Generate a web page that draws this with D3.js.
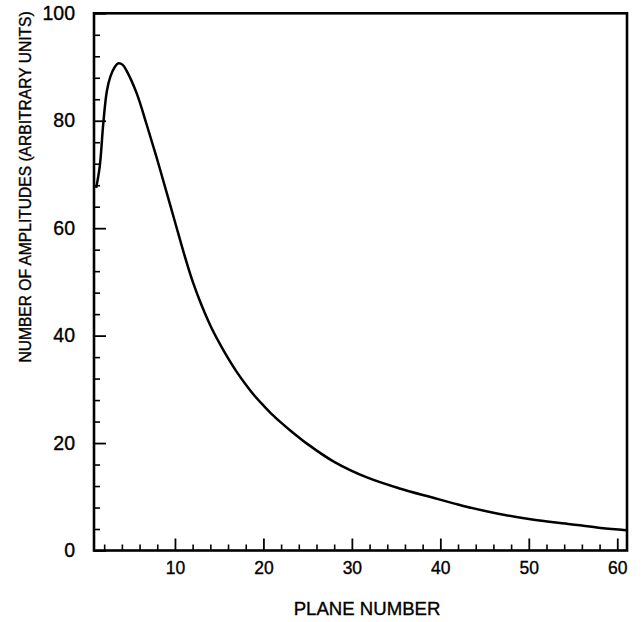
<!DOCTYPE html>
<html>
<head>
<meta charset="utf-8">
<script src="https://cdn.jsdelivr.net/npm/d3@7"></script>
<style>
  html, body { margin: 0; padding: 0; background: #fff; }
  svg { display: block; }
  text { font-family: "Liberation Sans", Arial, Helvetica, sans-serif; fill: #000; stroke: #000; stroke-width: 0.35px; }
</style>
</head>
<body>
<svg id="chart" width="644" height="622"></svg>
<script>
// Amplitude count per detector plane
const planes = [1.1, 1.5, 1.9, 2.3, 2.7, 3.2, 3.6, 4.1, 4.6, 5.7, 6.8, 7.9, 9.0, 10.0,
  11.0, 12.0, 13.0, 14.0, 15.0, 16.0, 17.0, 18.0, 19.0, 20.0, 21.0, 22.0, 23.0,
  25.0, 28.0, 31.7, 35.5, 39.0, 42.6, 46.4, 50.2, 54.7, 57.7, 60.7, 61.0];
const amplitudes = [67.5, 71.5, 79.5, 85.5, 88.2, 90.0, 90.7, 90.4, 89.1, 85.0, 79.3, 73.3, 67.0, 61.2,
  55.4, 50.1, 45.7, 41.9, 38.7, 35.8, 33.2, 30.9, 28.8, 27.0, 25.3, 23.8, 22.4,
  19.8, 16.5, 13.6, 11.5, 9.9, 8.3, 6.9, 5.8, 4.9, 4.3, 3.8, 3.75];

const xMajorTicks = [10, 20, 30, 40, 50, 60];
const xMinorTicks = d3.range(2, 61, 2).filter(v => v % 10 !== 0);
const yMajorTicks = [0, 20, 40, 60, 80, 100];
const yMinorTicks = d3.range(4, 100, 4).filter(v => v % 20 !== 0);

const xTitle = "PLANE NUMBER";
const yTitle = "NUMBER OF AMPLITUDES (ARBITRARY UNITS)";

const svg = d3.select("#chart");
const plotLeft = 94, plotRight = 627, plotTop = 13.3, plotBottom = 550.5;

const x = d3.scaleLinear().domain([0.85, 61.1]).range([plotLeft, plotRight]);
const y = d3.scaleLinear().domain([0, 100]).range([plotBottom, plotTop]);

// Frame
svg.append("rect")
  .attr("x", plotLeft).attr("y", plotTop)
  .attr("width", plotRight - plotLeft).attr("height", plotBottom - plotTop)
  .attr("fill", "none").attr("stroke", "#000").attr("stroke-width", 2.6);

// Bottom axis: inward ticks, labels below
const bottomAxis = svg.append("g").attr("transform", `translate(0,${plotBottom})`);
bottomAxis.append("g")
  .call(d3.axisBottom(x).tickValues(xMinorTicks).tickSizeInner(-6).tickSizeOuter(0).tickFormat(""))
  .call(g => g.select(".domain").remove())
  .call(g => g.selectAll("line").attr("stroke-width", 1.6));
bottomAxis.append("g")
  .call(d3.axisBottom(x).tickValues(xMajorTicks).tickSizeInner(-12).tickSizeOuter(0).tickPadding(11))
  .call(g => g.select(".domain").remove())
  .call(g => g.selectAll("line").attr("stroke-width", 1.8))
  .call(g => g.selectAll("text")
    .attr("font-size", 17.5).attr("fill", "#000")
    .attr("font-family", "'Liberation Sans', Arial, sans-serif"));

// Left axis: inward ticks, labels left
const leftAxis = svg.append("g").attr("transform", `translate(${plotLeft},0)`);
leftAxis.append("g")
  .call(d3.axisLeft(y).tickValues(yMinorTicks).tickSizeInner(-6).tickSizeOuter(0).tickFormat(""))
  .call(g => g.select(".domain").remove())
  .call(g => g.selectAll("line").attr("stroke-width", 1.6));
leftAxis.append("g")
  .call(d3.axisLeft(y).tickValues(yMajorTicks).tickSizeInner(-12).tickSizeOuter(0).tickPadding(19))
  .call(g => g.select(".domain").remove())
  .call(g => g.selectAll("line").attr("stroke-width", 1.8))
  .call(g => g.selectAll("text")
    .attr("font-size", 19.5).attr("fill", "#000")
    .attr("font-family", "'Liberation Sans', Arial, sans-serif"));

// Curve
const line = d3.line()
  .x((d, i) => x(planes[i]))
  .y(d => y(d))
  .curve(d3.curveCatmullRom.alpha(0.5));
svg.append("path")
  .datum(amplitudes)
  .attr("d", line)
  .attr("fill", "none")
  .attr("stroke", "#000")
  .attr("stroke-width", 2.5)
  .attr("stroke-linejoin", "round");

// Axis titles
svg.append("text")
  .attr("x", 367).attr("y", 615)
  .attr("text-anchor", "middle")
  .attr("font-size", 18.6)
  .text(xTitle);

svg.append("text")
  .attr("transform", "translate(31,187) rotate(-90)")
  .attr("text-anchor", "middle")
  .attr("font-size", 15.6)
  .text(yTitle);
</script>
</body>
</html>
